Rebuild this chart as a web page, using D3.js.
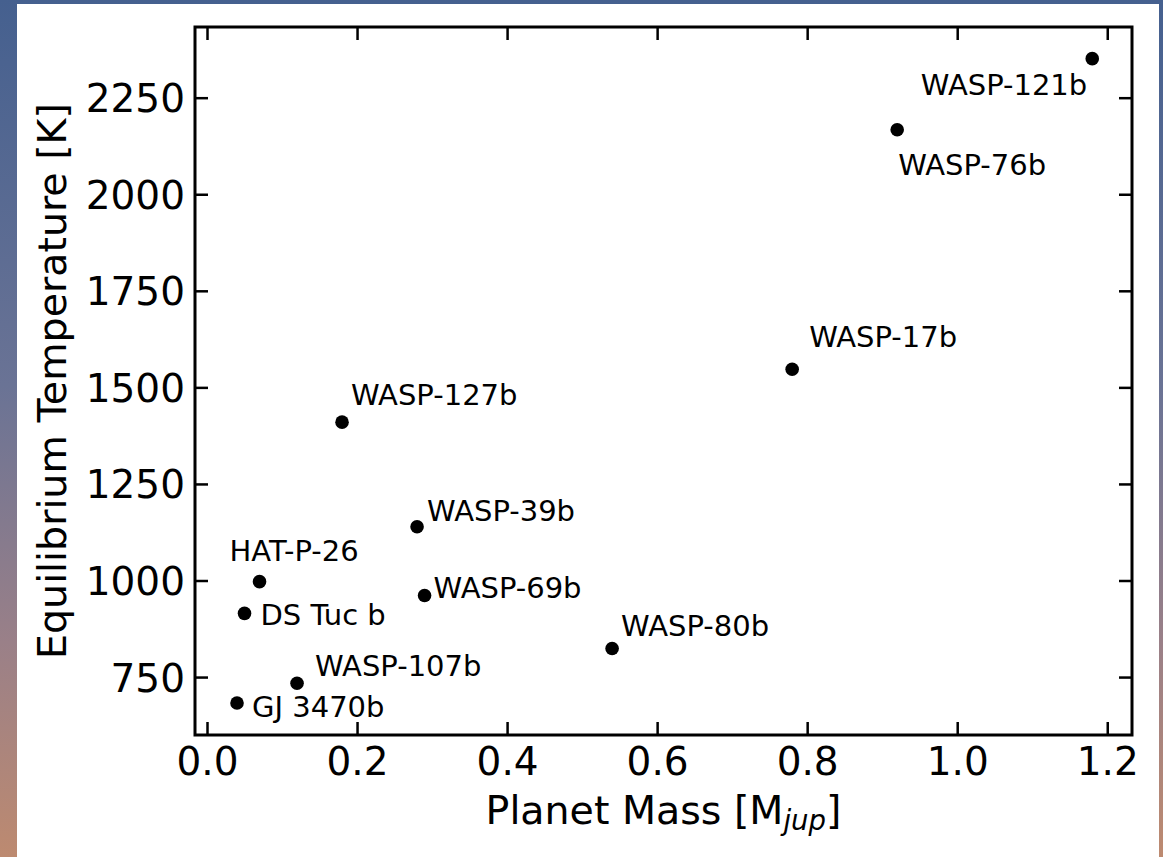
<!DOCTYPE html>
<html>
<head>
<meta charset="utf-8">
<script src="https://cdn.jsdelivr.net/npm/d3@7"></script>
<style>
  html, body { margin: 0; padding: 0; }
  body { width: 1163px; height: 857px; overflow: hidden; }
  svg text { font-family: "DejaVu Sans", sans-serif; fill: #000; }
</style>
</head>
<body>
<svg id="chart" width="1163" height="857"></svg>
<script>
// ---- data ----
const planets = ["WASP-121b", "WASP-76b", "WASP-17b", "WASP-127b", "WASP-39b", "WASP-69b",
                 "HAT-P-26", "DS Tuc b", "WASP-80b", "WASP-107b", "GJ 3470b"];
const massMjup = [1.18, 0.92, 0.78, 0.18, 0.28, 0.29, 0.07, 0.05, 0.54, 0.12, 0.04];
const teqK     = [2351, 2167, 1547, 1410, 1139, 961, 997, 915, 824, 734, 683];
const xTicks = [0.0, 0.2, 0.4, 0.6, 0.8, 1.0, 1.2];
const yTicks = [750, 1000, 1250, 1500, 1750, 2000, 2250];

// ---- label placement (pixel offsets from each point, like annotate xytext) ----
const labelPlacement = {
  "WASP-121b": {dx: -5, dy: 36, anchor: "end"},
  "WASP-76b":  {dx: 1,  dy: 45, anchor: "start"},
  "WASP-17b":  {dx: 17, dy: -22, anchor: "start"},
  "WASP-127b": {dx: 9,  dy: -17, anchor: "start"},
  "WASP-39b":  {dx: 10, dy: -6, anchor: "start"},
  "WASP-69b":  {dx: 9,  dy: 2, anchor: "start"},
  "HAT-P-26":  {dx: -30, dy: -21, anchor: "start"},
  "DS Tuc b":  {dx: 16, dy: 12, anchor: "start"},
  "WASP-80b":  {dx: 9,  dy: -12, anchor: "start"},
  "WASP-107b": {dx: 18, dy: -7, anchor: "start"},
  "GJ 3470b":  {dx: 15, dy: 14, anchor: "start"}
};

(function () {
const W = 1163, H = 857;
const svg = d3.select("#chart");

// background frame
const defs = svg.append("defs");
const grad = defs.append("linearGradient").attr("id", "bg").attr("x1", 0).attr("y1", 0).attr("x2", 0).attr("y2", 1);
grad.append("stop").attr("offset", "0%").attr("stop-color", "#45608f");
grad.append("stop").attr("offset", "45%").attr("stop-color", "#6a7395");
grad.append("stop").attr("offset", "75%").attr("stop-color", "#9a8088");
grad.append("stop").attr("offset", "100%").attr("stop-color", "#bd8a70");
svg.append("rect").attr("width", W).attr("height", H).attr("fill", "url(#bg)");
svg.append("rect").attr("x", 17).attr("y", 4).attr("width", 1142).attr("height", H - 4).attr("fill", "#fff");

const pL = 195, pR = 1132, pT = 27, pB = 735;
const x = d3.scaleLinear().domain([-0.016, 1.233]).range([pL, pR]);
const y = d3.scaleLinear().domain([600, 2433]).range([pB, pT]);

const tickLen = 13;
const tickFont = 39;
const labelFont = 39.5;
const fmtX = d3.format(".1f");

const axB = d3.axisBottom(x).tickValues(xTicks).tickSize(-tickLen).tickFormat(fmtX);
const axT = d3.axisTop(x).tickValues(xTicks).tickSize(-tickLen).tickFormat("");
const axL = d3.axisLeft(y).tickValues(yTicks).tickSize(-tickLen).tickFormat(d3.format("d"));
const axR = d3.axisRight(y).tickValues(yTicks).tickSize(-tickLen).tickFormat("");

function style(g) {
  g.select(".domain").remove();
  g.selectAll(".tick line").attr("stroke", "#000").attr("stroke-width", 2.5);
  g.selectAll(".tick text").attr("font-size", tickFont).attr("font-family", "DejaVu Sans, sans-serif").attr("fill", "#000");
}
svg.append("g").attr("transform", `translate(0,${pB})`).call(axB).call(style)
  .selectAll(".tick text").attr("dy", null).attr("y", 40);
svg.append("g").attr("transform", `translate(0,${pT})`).call(axT).call(style);
svg.append("g").attr("transform", `translate(${pL},0)`).call(axL).call(style)
  .selectAll(".tick text").attr("x", -10).attr("dy", "0.36em");
svg.append("g").attr("transform", `translate(${pR},0)`).call(axR).call(style);

svg.append("rect").attr("x", pL).attr("y", pT).attr("width", pR - pL).attr("height", pB - pT)
  .attr("fill", "none").attr("stroke", "#000").attr("stroke-width", 3);

const data = planets.map((p, i) => ({name: p, m: massMjup[i], t: teqK[i]}));
svg.append("g").selectAll("circle").data(data).join("circle")
  .attr("cx", d => x(d.m)).attr("cy", d => y(d.t)).attr("r", 6.8).attr("fill", "#000");

svg.append("g").selectAll("text").data(data).join("text")
  .attr("x", d => x(d.m) + labelPlacement[d.name].dx)
  .attr("y", d => y(d.t) + labelPlacement[d.name].dy)
  .attr("text-anchor", d => labelPlacement[d.name].anchor)
  .attr("font-size", 29)
  .text(d => d.name);

const xl = svg.append("text").attr("x", (pL + pR) / 2).attr("y", 824)
  .attr("text-anchor", "middle").attr("font-size", labelFont);
xl.append("tspan").text("Planet Mass [M");
xl.append("tspan").attr("font-size", 27.5).attr("font-style", "italic").attr("dy", 6).text("jup");
xl.append("tspan").attr("dy", -6).text("]");

svg.append("text").attr("transform", `translate(66,${(pT + pB) / 2}) rotate(-90)`)
  .attr("text-anchor", "middle").attr("font-size", labelFont).text("Equilibrium Temperature [K]");
})();
</script>
</body>
</html>
